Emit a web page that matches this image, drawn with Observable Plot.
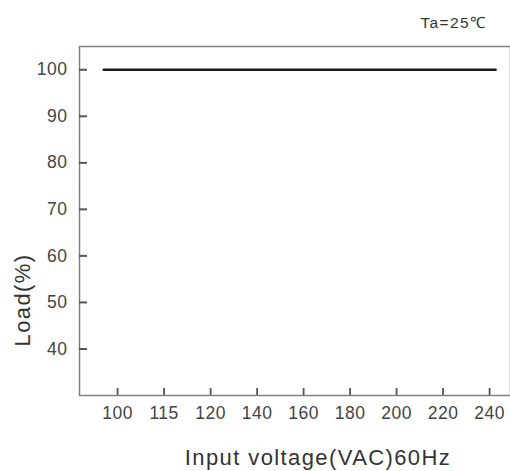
<!DOCTYPE html>
<html><head><meta charset="utf-8">
<script src="https://cdn.jsdelivr.net/npm/d3@7"></script>
<script src="https://cdn.jsdelivr.net/npm/@observablehq/plot@0.6"></script>
<style>
body{margin:0;background:#fff;font-family:Arial,"Liberation Sans",sans-serif}
#chart g[aria-label="y-axis tick label"] text,
#chart g[aria-label="x-axis tick label"] text{letter-spacing:0.5px}
#chart g[aria-label="text"] text{letter-spacing:1.4px}
</style>
</head><body><div id="chart"></div>
<script>
const voltageLabels = ["100","115","120","140","160","180","200","220","240"];
const loadTicks = [40,50,60,70,80,90,100];
// line position along the categorical voltage axis (index units) and load (%)
const curveX = [-0.3, 8.13];
const curveLoad = [100, 100];
const curve = curveX.map((x,i)=>({x, y: curveLoad[i]}));
const xIdx = voltageLabels.map((_,i)=>i);
const W = 510, H = 471, mL = 79, mR = 0, mT = 46, mB = 76;
const gray = "#808080", txt = "#444";
const chart = Plot.plot({
  width: W, height: H,
  marginLeft: mL, marginRight: mR, marginTop: mT, marginBottom: mB,
  style: {fontFamily: "Arial, 'Liberation Sans', sans-serif", background: "#fff"},
  x: {domain: [-0.82, 8.45]},
  y: {domain: [30, 105]},
  marks: [
    Plot.frame({stroke: gray, strokeWidth: 1.5}),
    Plot.ruleY(loadTicks, {y: d => d, insetRight: (W - mL - mR) - 8, stroke: "#555", strokeWidth: 2}),
    Plot.ruleX(xIdx, {x: d => d, insetTop: (H - mT - mB) - 7, stroke: "#555", strokeWidth: 1.8}),
    Plot.axisY(loadTicks, {tickSize: 0, tickPadding: 12, fontSize: 17.5, fill: txt, label: null}),
    Plot.axisX(xIdx, {tickSize: 0, tickPadding: 11, fontSize: 17.5, fill: txt, tickFormat: i => voltageLabels[i], label: null}),
    Plot.line(curve, {x: "x", y: "y", stroke: "#1a1a1a", strokeWidth: 2.5}),
    Plot.text(["Ta=25℃"], {frameAnchor: "top-right", dx: -24, dy: -23, fontSize: 15.5, fill: "#333", textAnchor: "end", lineAnchor: "middle"}),
    Plot.text(["Load(%)"], {frameAnchor: "left", dx: -57, dy: 79, rotate: -90, fontSize: 22, fill: "#333", textAnchor: "middle", lineAnchor: "middle"}),
    Plot.text(["Input voltage(VAC)60Hz"], {frameAnchor: "bottom", dx: 23, dy: 62, fontSize: 22, fill: "#333", textAnchor: "middle", lineAnchor: "middle"})
  ]
});
document.getElementById("chart").appendChild(chart);
</script></body></html>
